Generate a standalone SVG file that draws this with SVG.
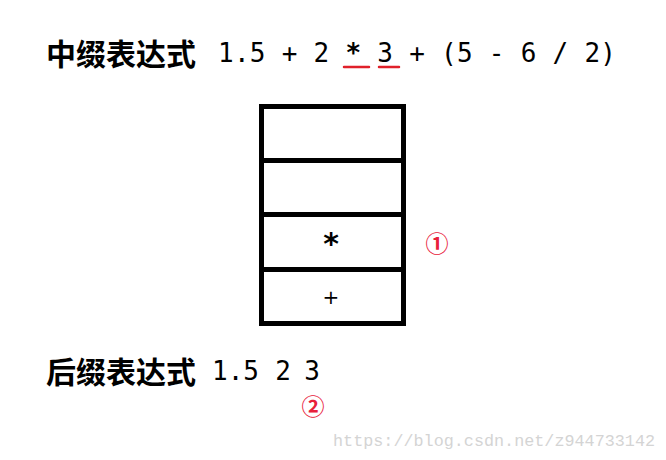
<svg xmlns="http://www.w3.org/2000/svg" width="666" height="460" viewBox="0 0 666 460">
<style>
.cn{font-family:"Noto Sans CJK SC","Noto Sans",sans-serif;font-weight:bold;font-size:30px;fill:#000}
.mono{font-family:"DejaVu Sans Mono","Liberation Mono",monospace;font-size:26px;fill:#000}
.cell{fill:#fff;stroke:#000;stroke-width:5}
.sym{font-family:"DejaVu Sans","Liberation Sans",sans-serif;fill:#000;text-anchor:middle}
.mark{font-family:"Noto Sans CJK SC","DejaVu Sans",sans-serif;fill:#e8203a;text-anchor:middle;font-size:23px;font-weight:bold}
.ul{stroke:#e0202a;stroke-width:2.5;stroke-linecap:round}
</style>
<rect width="666" height="460" fill="#fff"/>
<g id="infix">
<text class="cn" x="46" y="65">中缀表达式</text>
<text class="mono" x="218" y="62" xml:space="preserve" textLength="398" lengthAdjust="spacing">1.5 + 2 <tspan font-weight="bold">*</tspan> 3 + (5 - 6 / 2)</text>
</g>
<g id="underlines">
<line class="ul" x1="344" y1="67" x2="369" y2="67"/>
<line class="ul" x1="379" y1="67" x2="399" y2="67"/>
</g>
<g id="stack">
<g id="cell1"><rect class="cell" x="261.5" y="106.5" width="142" height="54"/></g>
<g id="cell2"><rect class="cell" x="261.5" y="160.5" width="142" height="54"/></g>
<g id="cell3"><rect class="cell" x="261.5" y="214.5" width="142" height="55"/><text class="sym" x="331" y="254" font-size="30" font-weight="bold">*</text></g>
<g id="cell4"><rect class="cell" x="261.5" y="269.5" width="142" height="54"/><text class="sym" x="331" y="304" font-size="20">+</text></g>
</g>
<g id="mark1"><text class="mark" x="437" y="252">①</text></g>
<g id="postfix">
<text class="cn" x="46" y="383">后缀表达式</text>
<text class="mono" x="212" y="380" font-size="24">1.5</text>
<text class="mono" x="283" y="380" font-size="24" text-anchor="middle">2</text>
<text class="mono" x="312" y="380" font-size="24" text-anchor="middle">3</text>
</g>
<g id="mark2"><text class="mark" x="313" y="415">②</text></g>
<text x="333" y="446" font-family="Liberation Mono, monospace" font-size="17" fill="#d4d4d4" textLength="322" lengthAdjust="spacingAndGlyphs">https://blog.csdn.net/z944733142</text>
</svg>
